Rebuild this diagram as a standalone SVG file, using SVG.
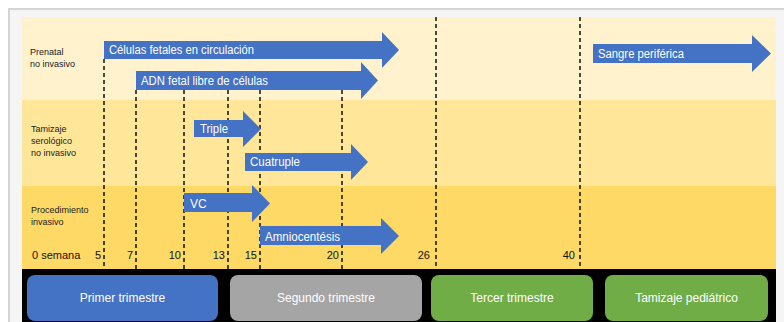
<svg xmlns="http://www.w3.org/2000/svg" width="784" height="322" viewBox="0 0 784 322">
  <defs>
    <style>
      .lbl { font-family: "Liberation Sans", Arial, sans-serif; font-size: 9px; fill: #222; }
      .wk { font-family: "Liberation Sans", Arial, sans-serif; font-size: 11px; fill: #111; }
      .arr { fill: #4472C4; }
      .at { font-family: "Liberation Sans", Arial, sans-serif; font-size: 12px; fill: #fff; }
      .bt { font-family: "Liberation Sans", Arial, sans-serif; font-size: 12px; fill: #fff; text-anchor: middle; }
      .dash { stroke: #111; stroke-width: 1.5; stroke-dasharray: 4 3; fill: none; }
    </style>
  </defs>

  <!-- frame -->
  <rect x="0" y="0" width="784" height="322" fill="#ffffff"/>
  <rect x="9" y="9" width="780" height="320" fill="#f5f5f5" stroke="#d4d4d4" stroke-width="2"/>

  <!-- bands -->
  <g id="bands">
    <rect x="22" y="17" width="754" height="83" fill="#FFF2CC"/>
    <rect x="22" y="100" width="754" height="86" fill="#FFE699"/>
    <rect x="22" y="186" width="754" height="83" fill="#FFD966"/>
    <rect x="22" y="269" width="754" height="53" fill="#000000"/>
  </g>

  <!-- row labels -->
  <g id="row-labels">
    <text class="lbl" x="30" y="55">Prenatal</text>
    <text class="lbl" x="30" y="67">no invasivo</text>
    <text class="lbl" x="31" y="132">Tamizaje</text>
    <text class="lbl" x="31" y="144">serológico</text>
    <text class="lbl" x="31" y="156">no invasivo</text>
    <text class="lbl" x="31" y="213">Procedimiento</text>
    <text class="lbl" x="31" y="225">invasivo</text>
  </g>

  <!-- connectors: dashed week lines -->
  <g id="connectors">
    <line class="dash" x1="104" y1="59" x2="104" y2="269"/>
    <line class="dash" x1="136" y1="90" x2="136" y2="269"/>
    <line class="dash" x1="184" y1="90" x2="184" y2="269"/>
    <line class="dash" x1="228" y1="90" x2="228" y2="269"/>
    <line class="dash" x1="260" y1="90" x2="260" y2="269"/>
    <line class="dash" x1="342" y1="90" x2="342" y2="269"/>
    <line class="dash" x1="436" y1="17" x2="436" y2="269"/>
    <line class="dash" x1="580" y1="17" x2="580" y2="269"/>
  </g>

  <!-- week labels -->
  <g id="weeks">
    <text class="wk" x="32" y="259">0 semana</text>
    <text class="wk" x="101" y="259" text-anchor="end">5</text>
    <text class="wk" x="133" y="259" text-anchor="end">7</text>
    <text class="wk" x="181" y="259" text-anchor="end">10</text>
    <text class="wk" x="225" y="259" text-anchor="end">13</text>
    <text class="wk" x="257" y="259" text-anchor="end">15</text>
    <text class="wk" x="339" y="259" text-anchor="end">20</text>
    <text class="wk" x="430" y="259" text-anchor="end">26</text>
    <text class="wk" x="575" y="259" text-anchor="end">40</text>
  </g>

  <!-- arrows -->
  <g id="celulas-fetales">
    <polygon class="arr" points="104,41 382,41 382,32 399,50 382,68 382,59 104,59"/>
    <text class="at" x="109" y="54" textLength="145" lengthAdjust="spacingAndGlyphs">Células fetales en circulación</text>
  </g>
  <g id="adn-fetal">
    <polygon class="arr" points="136,71 361,71 361,62 378,80.5 361,99 361,90 136,90"/>
    <text class="at" x="141" y="85" textLength="127" lengthAdjust="spacingAndGlyphs">ADN fetal libre de células</text>
  </g>
  <g id="sangre-periferica">
    <polygon class="arr" points="593,44 752,44 752,35 771,53.5 752,72 752,63 593,63"/>
    <text class="at" x="598" y="58" textLength="86" lengthAdjust="spacingAndGlyphs">Sangre periférica</text>
  </g>
  <g id="triple">
    <polygon class="arr" points="194,120 243,120 243,111 261,129 243,147 243,137 194,137"/>
    <text class="at" x="200" y="133" textLength="28" lengthAdjust="spacingAndGlyphs">Triple</text>
  </g>
  <g id="cuatruple">
    <polygon class="arr" points="245,153 351,153 351,144 368,162 351,180 351,171 245,171"/>
    <text class="at" x="250" y="166" textLength="50" lengthAdjust="spacingAndGlyphs">Cuatruple</text>
  </g>
  <g id="vc">
    <polygon class="arr" points="184,193 252,193 252,185 270,203.5 252,222 252,212 184,212"/>
    <text class="at" x="190" y="208">VC</text>
  </g>
  <g id="amniocentesis">
    <polygon class="arr" points="260,226 381,226 381,218 399,236 381,254 381,245 260,245"/>
    <text class="at" x="265" y="241" textLength="75" lengthAdjust="spacingAndGlyphs">Amniocentésis</text>
  </g>

  <!-- trimester boxes -->
  <g id="primer-trimestre">
    <rect x="27" y="275" width="191" height="46" rx="8" fill="#4472C4"/>
    <text class="bt" x="122.5" y="302">Primer trimestre</text>
  </g>
  <g id="segundo-trimestre">
    <rect x="230" y="275" width="192" height="46" rx="8" fill="#A5A5A5"/>
    <text class="bt" x="326" y="302">Segundo trimestre</text>
  </g>
  <g id="tercer-trimestre">
    <rect x="431" y="275" width="162" height="46" rx="8" fill="#70AD47"/>
    <text class="bt" x="512" y="302">Tercer trimestre</text>
  </g>
  <g id="tamizaje-pediatrico">
    <rect x="605" y="275" width="163" height="46" rx="8" fill="#70AD47"/>
    <text class="bt" x="686.5" y="302">Tamizaje pediátrico</text>
  </g>
</svg>
